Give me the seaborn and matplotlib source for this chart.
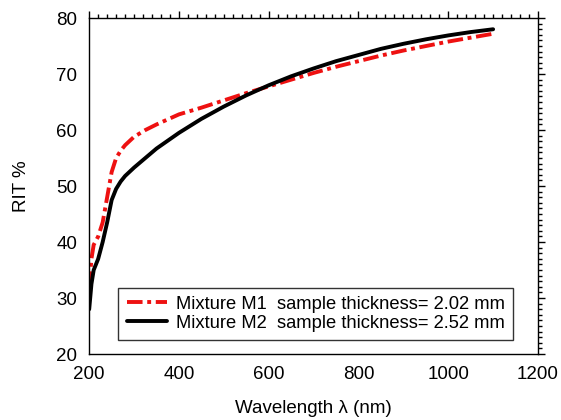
import numpy as np
import pandas as pd
import matplotlib
matplotlib.use('Agg')
import matplotlib.pyplot as plt
from matplotlib.ticker import MultipleLocator
import seaborn as sns

sns.set_style("white")
plt.rcParams['font.family'] = ['Liberation Sans', 'DejaVu Sans']
plt.rcParams['text.color'] = 'black'
plt.rcParams['axes.labelcolor'] = 'black'
plt.rcParams['xtick.color'] = 'black'
plt.rcParams['ytick.color'] = 'black'

wavelength = [200, 205, 210, 220, 230, 240, 250, 260, 270, 280, 300, 325, 350,
              400, 450, 500, 550, 600, 650, 700, 750, 800, 850, 900, 950, 1000,
              1050, 1100]
rit_m1 = [32, 37, 39.5, 41, 43.5, 48, 52.5, 55, 56.3, 57.3, 58.8, 60, 61,
          62.8, 64, 65.3, 66.6, 67.8, 69, 70.2, 71.3, 72.3, 73.3, 74.2, 75,
          75.8, 76.5, 77.2]
rit_m2 = [28, 32.5, 35, 37, 40, 43.5, 47.5, 49.5, 50.8, 51.8, 53.3, 55, 56.7,
          59.5, 62, 64.2, 66.2, 68, 69.6, 71, 72.3, 73.4, 74.5, 75.4, 76.2,
          76.9, 77.5, 78]
labels = ['Mixture M1  sample thickness= 2.02 mm',
          'Mixture M2  sample thickness= 2.52 mm']

df = pd.concat([
    pd.DataFrame({'wl': wavelength, 'rit': rit_m1, 'sample': labels[0]}),
    pd.DataFrame({'wl': wavelength, 'rit': rit_m2, 'sample': labels[1]}),
])

fig = plt.figure(figsize=(5.61, 4.2), dpi=100)
ax = fig.add_axes([0.159, 0.157, 0.8, 0.8])
sns.lineplot(data=df, x='wl', y='rit', hue='sample', style='sample',
             palette={labels[0]: '#ee1111', labels[1]: 'black'},
             dashes={labels[0]: (4, 1.2, 1, 1.2), labels[1]: ''},
             linewidth=2.8, ax=ax)

ax.set_xlim(200, 1200)
ax.set_ylim(20, 80)
ax.xaxis.set_major_locator(MultipleLocator(200))
ax.xaxis.set_minor_locator(MultipleLocator(20))
ax.yaxis.set_major_locator(MultipleLocator(10))
ax.yaxis.set_minor_locator(MultipleLocator(1))
ax.tick_params(which='both', top=True, right=True, direction='out',
               labelsize=13.5, width=1, color='black')
ax.tick_params(which='major', length=5)
ax.tick_params(which='minor', length=3)
for s in ax.spines.values():
    s.set_color('black')
    s.set_linewidth(1)
ax.set_xlabel('Wavelength λ (nm)', fontsize=13.5, labelpad=12)
ax.set_ylabel('RIT %', fontsize=13.5, labelpad=19)

handles, lbls = ax.get_legend_handles_labels()
leg = ax.legend(handles, lbls, loc='lower right', bbox_to_anchor=(0.945, 0.042),
                fontsize=13.2, frameon=True, fancybox=False, handlelength=2.2,
                borderpad=0.45, labelspacing=0.1, handletextpad=0.5,
                borderaxespad=0)
leg.get_frame().set_edgecolor('black')
leg.get_frame().set_linewidth(1)

plt.savefig('out.png', dpi=100)
